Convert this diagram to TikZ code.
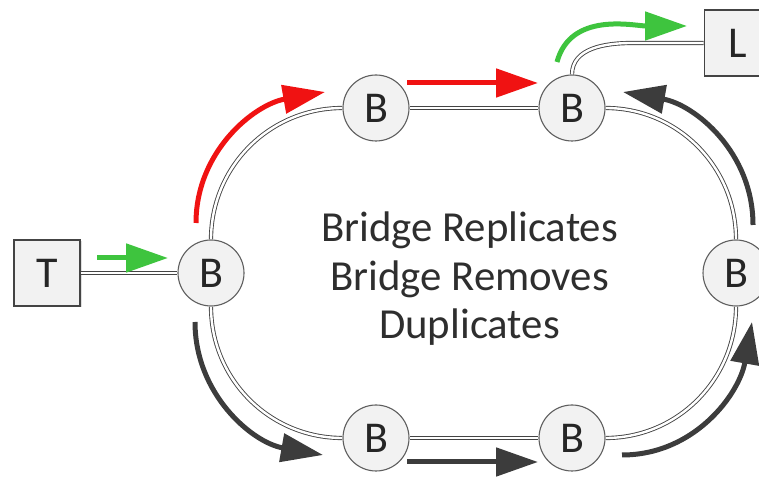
\documentclass[tikz,border=0pt]{standalone}
\usepackage{fontspec}
\setmainfont{Carlito}
\usetikzlibrary{arrows.meta,shadows}
\definecolor{lineg}{HTML}{444444}
\definecolor{circg}{HTML}{5E5E5E}
\definecolor{fillg}{HTML}{F2F2F2}
\definecolor{arrred}{HTML}{F01212}
\definecolor{arrgreen}{HTML}{3EC43E}
\definecolor{arrgray}{HTML}{3C3C3C}
\begin{document}
\begin{tikzpicture}[x=1pt,y=1pt,
  bnode/.style={circle, draw=circg, line width=1.1pt, fill=fillg, minimum size=66pt, inner sep=0pt, text=black!85, font=\fontsize{44}{48}\selectfont},
  boxnode/.style={rectangle, draw=lineg, line width=1.8pt, fill=fillg, minimum size=66pt, inner sep=0pt, text=black!85, font=\fontsize{44}{48}\selectfont, drop shadow={shadow xshift=1.5pt, shadow yshift=-1.5pt, opacity=0.25}},
  link/.style={draw=lineg, line width=0.9pt, double=white, double distance=2.4pt},
  flow/.style={line width=5pt, -{Triangle[length=42pt,width=28pt]}},
]
\useasboundingbox (0,0) rectangle (759,478);
\clip (0,0) rectangle (759,478);

% nodes
\node[boxnode] (T) at (47,205) {T};
\node[boxnode] (L) at (737.5,435) {L};
\node[bnode] (BL) at (211,205) {B};
\node[bnode] (T1) at (376,370) {B};
\node[bnode] (T2) at (572,370) {B};
\node[bnode] (R)  at (736,205) {B};
\node[bnode] (B1) at (376,40) {B};
\node[bnode] (B2) at (572,40) {B};

\node[align=center, text=black!82, font=\fontsize{42.8}{48.5}\selectfont] (txt) at (469.5,199) {Bridge Replicates\\Bridge Removes\\Duplicates};

% ring links
\coordinate (lk) at (632,435);
\draw[link] (T) -- (BL);
\draw[link] (BL.north) to[out=90,in=180] (T1.west);
\draw[link] (T1) -- (T2);
\draw[link] (T2.east) to[out=0,in=90] (R.north);
\draw[link] (R.south) to[out=-90,in=0] (B2.east);
\draw[link] (B2) -- (B1);
\draw[link] (B1.west) to[out=180,in=-90] (BL.south);
\draw[link] (T2.north) to[out=90,in=180] (lk) -- (L.west);

% flow arrows
\coordinate (g1a) at (97,220);  \coordinate (g1b) at (168,220);
\coordinate (r1a) at (196,255); \coordinate (r1b) at (325,386);
\coordinate (r2a) at (407,395); \coordinate (r2b) at (538,395);
\coordinate (g2a) at (557,416); \coordinate (g2b) at (687,452);
\coordinate (k1a) at (753,253); \coordinate (k1b) at (623,386);
\coordinate (k2a) at (195,156); \coordinate (k2b) at (323,23);
\coordinate (k3a) at (407,16);  \coordinate (k3b) at (538,16);
\coordinate (k4a) at (622,23);  \coordinate (k4b) at (752,156);

\draw[flow, arrgreen] (g1a) -- (g1b);
\draw[flow, arrred] (r1a) to[out=90,in=190] (r1b);
\draw[flow, arrred] (r2a) -- (r2b);
\draw[flow, arrgreen] (g2a) to[out=75,in=180] (g2b);
\draw[flow, arrgray] (k1a) to[out=90,in=-10] (k1b);
\draw[flow, arrgray] (k2a) to[out=-90,in=170] (k2b);
\draw[flow, arrgray] (k3a) -- (k3b);
\draw[flow, arrgray] (k4a) to[out=0,in=-100] (k4b);
\end{tikzpicture}
\end{document}
